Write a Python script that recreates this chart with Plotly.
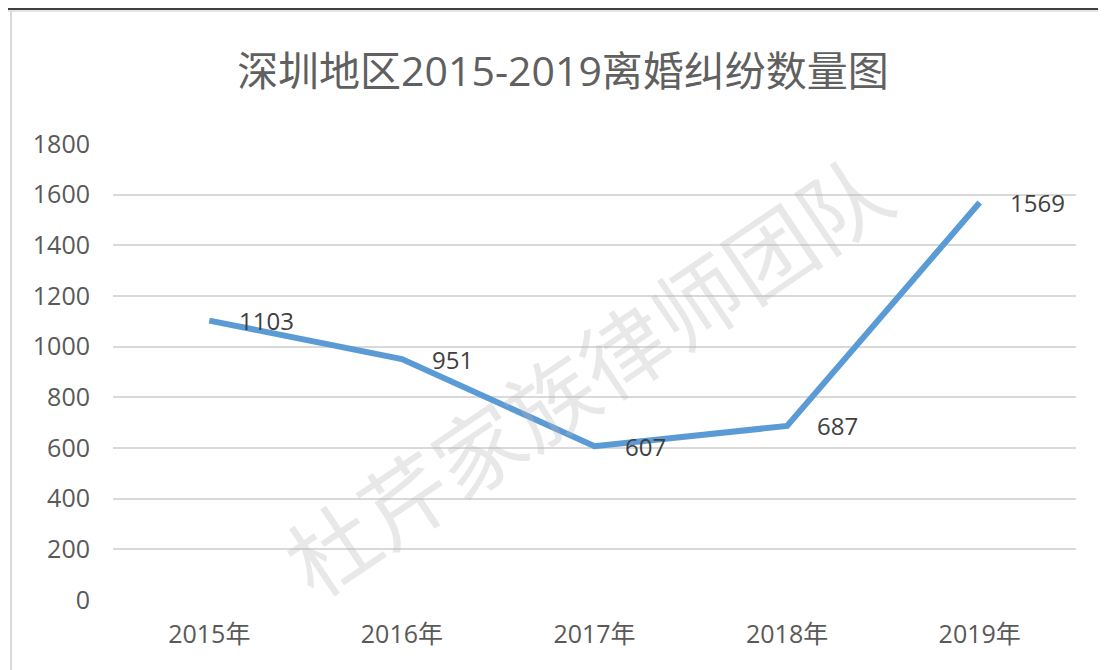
import plotly.graph_objects as go

years = ["2015年", "2016年", "2017年", "2018年", "2019年"]
cases = [1103, 951, 607, 687, 1569]
y_ticks = [0, 200, 400, 600, 800, 1000, 1200, 1400, 1600, 1800]
title_text = "深圳地区2015-2019离婚纠纷数量图"
watermark = "杜芹家族律师团队"

FONT = "Open Sans, Noto Sans CJK SC"
CJK = "Noto Sans CJK SC"
W, H = 1106, 670
OFF = 8  # page body margin
L, R, T, B = 113 - OFF, 30 + OFF, 144 - OFF, 70 + OFF
pw, ph = W - L - R, H - T - B

def px_x(px):
    return (px - OFF - L) / pw

def px_y(py):
    return (H - B - (py - OFF)) / ph

fig = go.Figure()
fig.add_trace(go.Scatter(
    x=years, y=cases, mode="lines",
    line=dict(color="#5B9BD5", width=6),
    hoverinfo="x+y", showlegend=False,
))

annotations = []
for xv, yv in zip(years, cases):
    annotations.append(dict(
        x=xv, y=yv, xref="x", yref="y", text=str(yv), showarrow=False,
        xanchor="left", yanchor="middle", xshift=28,
        font=dict(family=FONT, size=24, color="#404040"),
    ))
annotations.append(dict(
    x=px_x(585), y=px_y(372), xref="paper", yref="paper", text=watermark,
    showarrow=False, textangle=-34,
    font=dict(family=CJK, size=88, color="rgba(185,185,185,0.32)"),
))

shapes = [
    dict(type="line", xref="paper", yref="paper",
         x0=px_x(5), x1=px_x(1115), y0=px_y(9), y1=px_y(9),
         line=dict(color="#000000", width=1.5)),
    dict(type="line", xref="paper", yref="paper",
         x0=px_x(5), x1=px_x(1115), y0=px_y(11), y1=px_y(11),
         line=dict(color="#dddddd", width=1.5)),
    dict(type="line", xref="paper", yref="paper",
         x0=px_x(11), x1=px_x(11), y0=px_y(11), y1=px_y(680),
         line=dict(color="#d9d9d9", width=2)),
]

fig.update_layout(
    width=W, height=H,
    margin=dict(l=L, r=R, t=T, b=B),
    paper_bgcolor="white", plot_bgcolor="white",
    title=dict(text=title_text, x=(563 - OFF) / W, xanchor="center",
               y=1 - (72 - OFF) / H, yanchor="middle",
               font=dict(family=FONT, size=41, color="#606060")),
    xaxis=dict(
        type="category", range=[-0.5, 4.5], showgrid=False, zeroline=False,
        showline=False, ticks="", ticklabelstandoff=17,
        tickfont=dict(family=FONT, size=25, color="#595959"),
    ),
    yaxis=dict(
        range=[0, 1800], tickvals=y_ticks, showgrid=True,
        gridcolor="#d9d9d9", gridwidth=1.6, zeroline=False,
        showline=False, ticks="", ticklabelstandoff=22,
        tickfont=dict(family=FONT, size=25, color="#595959"),
    ),
    annotations=annotations,
    shapes=shapes,
)

fig.write_html("out.html")
